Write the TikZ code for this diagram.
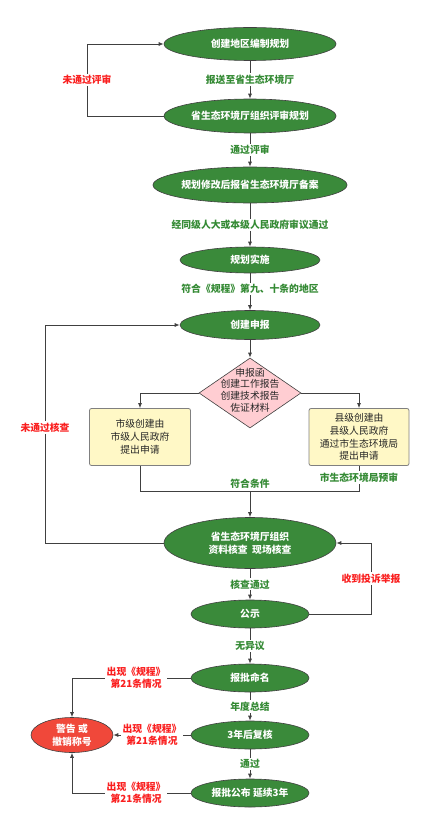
\documentclass[tikz,border=0pt]{standalone}
\usepackage{fontspec}
\setmainfont{Noto Sans CJK SC}
\usetikzlibrary{shapes.geometric,arrows.meta,calc}
\definecolor{flowgreen}{RGB}{58,138,58}
\definecolor{labelgreen}{RGB}{52,138,52}
\definecolor{labelred}{RGB}{250,30,30}
\definecolor{warnred}{RGB}{240,72,58}
\definecolor{boxyellow}{RGB}{255,248,198}
\definecolor{diapink}{RGB}{255,205,210}
\definecolor{linegray}{RGB}{64,64,64}

\begin{document}
\begin{tikzpicture}[x=1pt, y=-1pt,
    stage/.style={ellipse, draw=linegray, line width=0.6pt, fill=flowgreen, text=white, inner sep=0pt, align=center, font=\bfseries\fontsize{9.8}{12.8}\selectfont},
    applybox/.style={rectangle, rounded corners=2pt, draw=gray, line width=0.8pt, fill=boxyellow, text=black!85, inner sep=0pt, align=center, font=\fontsize{9.8}{12.8}\selectfont},
    flow/.style={draw=linegray, line width=0.8pt, -{Latex[length=5pt,width=4pt]}},
    line/.style={draw=linegray, line width=0.8pt},
    glabel/.style={fill=white, inner sep=1.5pt, text=labelgreen, align=center, font=\bfseries\fontsize{9.8}{12}\selectfont},
    rlabel/.style={fill=white, inner sep=1.5pt, text=labelred, align=center, font=\bfseries\fontsize{9.8}{12}\selectfont}]
  \useasboundingbox (0,0) rectangle (427,826);

  \node [stage, minimum width=172pt, minimum height=33pt] (plan) at (250,44) {创建地区编制规划};
  \node [stage, minimum width=172pt, minimum height=34pt] (review) at (250,116) {省生态环境厅组织评审规划};
  \node [stage, minimum width=172pt, minimum height=36pt] (record) at (250,185) {规划修改后报省生态环境厅备案};
  \node [stage, minimum width=140pt, minimum height=26pt] (implement) at (250,260) {规划实施};
  \node [stage, minimum width=140pt, minimum height=29pt] (apply) at (250,325) {创建申报};
  \node [diamond, draw=linegray, line width=0.6pt, fill=diapink, minimum width=102pt, minimum height=70pt, inner sep=0pt] (materials) at (250,393) {};
  \node [text=black!85, align=center, font=\fontsize{9.8}{11.8}\selectfont] (materialtext) at (250,390) {申报函\\创建工作报告\\创建技术报告\\佐证材料};
  \node [applybox, minimum width=101pt, minimum height=57pt] (citybox) at (140,437) {市级创建由\\市级人民政府\\提出申请};
  \node [applybox, minimum width=100pt, minimum height=57pt] (countybox) at (359,437) {县级创建由\\县级人民政府\\通过市生态环境局\\提出申请};
  \node [stage, minimum width=172pt, minimum height=51pt] (inspect) at (250,543) {省生态环境厅组织\\资料核查\ \ 现场核查};
  \node [stage, minimum width=118pt, minimum height=28pt] (publicity) at (250,614) {公示};
  \node [stage, minimum width=118pt, minimum height=28pt] (naming) at (250,678) {报批命名};
  \node [stage, minimum width=118pt, minimum height=28pt] (recheck) at (250,735) {3年后复核};
  \node [stage, minimum width=118pt, minimum height=28pt] (renew) at (250,793) {报批公布 延续3年};
  \node [stage, fill=warnred, minimum width=82pt, minimum height=35pt] (revoke) at (72,735) {警告 或\\撤销称号};

  \coordinate (reviewrail) at (87,0);
  \coordinate (leftrail) at (45,0);
  \coordinate (rightrail) at (371,0);
  \coordinate (merge) at (250,491);

  \draw [flow] (plan) -- node [glabel] {报送至省生态环境厅} (review);
  \draw [flow] (review.west) -- (review.west -| reviewrail) -- node [rlabel] {未通过评审} (plan.west -| reviewrail) -- (plan.west);
  \draw [flow] (review) -- node [glabel] {通过评审} (record);
  \draw [flow] (record) -- node [glabel] {经同级人大或本级人民政府审议通过} (implement);
  \draw [flow] (implement) -- node [glabel, pos=0.42] {符合《规程》第九、十条的地区} (apply);
  \draw [flow] (apply) -- (materials);
  \draw [flow] (materials.west) -| (citybox.north);
  \draw [flow] (materials.east) -| (countybox.north);
  \draw [line] (citybox.south) |- (merge);
  \draw [line] (merge) -| node [glabel, pos=0.77] {市生态环境局预审} (countybox.south);
  \node [glabel, anchor=south, inner sep=2pt] (condition) at (merge) {符合条件};
  \draw [flow] (merge) -- (inspect);
  \draw [flow] (inspect.west) -- (inspect.west -| leftrail) -- node [rlabel, pos=0.53] {未通过核查} (apply.west -| leftrail) -- (apply.west);
  \draw [flow] (inspect) -- node [glabel] {核查通过} (publicity);
  \draw [flow] (publicity.east) -- (publicity.east -| rightrail) -- node [rlabel] {收到投诉举报} (inspect.east -| rightrail) -- (inspect.east);
  \draw [flow] (publicity) -- node [glabel] {无异议} (naming);
  \draw [flow] (naming) -- node [glabel] {年度总结} (recheck);
  \draw [flow] (recheck) -- node [glabel] {通过} (renew);
  \draw [flow] (naming.west) -| node [rlabel, pos=0.23] {出现《规程》\\第21条情况} (revoke.north);
  \draw [flow] (recheck) -- node [rlabel] {出现《规程》\\第21条情况} (revoke);
  \draw [flow] (renew.west) -| node [rlabel, pos=0.23] {出现《规程》\\第21条情况} (revoke.south);
\end{tikzpicture}
\end{document}
